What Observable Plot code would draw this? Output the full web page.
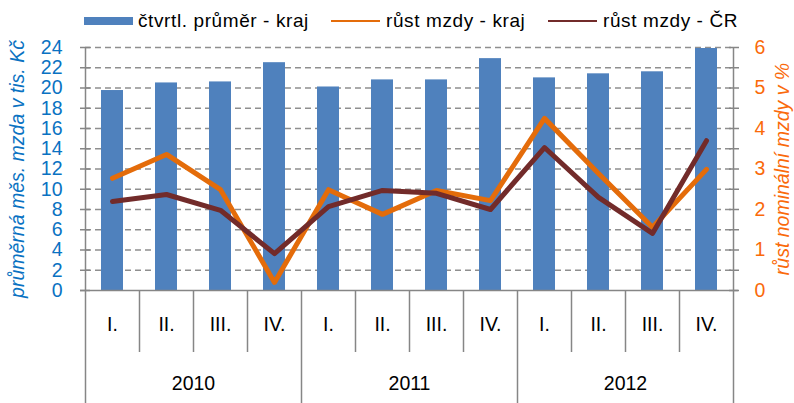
<!DOCTYPE html>
<html>
<head>
<meta charset="utf-8">
<script src="https://cdn.jsdelivr.net/npm/d3@7"></script>
<script src="https://cdn.jsdelivr.net/npm/@observablehq/plot@0.6"></script>
<style>
  html, body { margin: 0; padding: 0; background: #fff; }
  #wrap { position: relative; width: 794px; height: 403px; font-family: "Liberation Sans", Arial, sans-serif; }
  #wrap svg { position: absolute; left: 0; top: 0; }
  .lg { position: absolute; font-size: 19px; line-height: 22px; color: #000; white-space: pre; top: 10px; letter-spacing: 0.6px; }
  .sw { position: absolute; }
</style>
</head>
<body>
<div id="wrap"></div>
<script>
// ---- data ----
const years = ["2010", "2011", "2012"];
const quarters = ["I.", "II.", "III.", "IV."];
const wageKraj = [19.75, 20.5, 20.6, 22.5, 20.1, 20.8, 20.8, 22.9, 21.0, 21.4, 21.6, 23.9];      // tis. Kč
const growthKraj = [2.77, 3.36, 2.49, 0.2, 2.49, 1.88, 2.47, 2.22, 4.25, 2.89, 1.56, 2.99];    // %
const growthCR = [2.2, 2.37, 1.98, 0.91, 2.07, 2.47, 2.4, 2.0, 3.53, 2.3, 1.41, 3.7];         // %
const leftTicks = [0, 2, 4, 6, 8, 10, 12, 14, 16, 18, 20, 22, 24];
const rightTicks = [0, 1, 2, 3, 4, 5, 6];
const seriesNames = ["čtvrtl. průměr - kraj", "růst mzdy - kraj", "růst mzdy - ČR"];
const leftTitle = "průměrná měs. mzda v tis. Kč";
const rightTitle = "růst nominální mzdy v %";

// ---- build ----
const ratio = 24 / 6; // right axis (0–6 %) mapped onto left axis (0–24)
const rows = [];
years.forEach((y, yi) => quarters.forEach((q, qi) => {
  const i = yi * 4 + qi;
  rows.push({k: y + " " + q, year: y, q, wage: wageKraj[i], kraj: growthKraj[i], cr: growthCR[i], i});
}));
const keys = rows.map(d => d.k);

const BLUE = "#4F81BD", ORANGE = "#E46C0A", DARK = "#722B2A";
const AX = "#868686", LBLUE = "#0A72C2", LORANGE = "#FA6A0A";
const fs = 19.5;

const chart = Plot.plot({
  width: 794, height: 403,
  marginLeft: 85, marginRight: 61, marginTop: 47, marginBottom: 113,
  x: {domain: keys, padding: 0, axis: null},
  y: {domain: [0, 24], axis: null},
  style: {fontFamily: "'Liberation Sans', Arial, sans-serif", fontSize: fs + "px", background: "transparent", overflow: "visible"},
  marks: [
    Plot.gridY(leftTicks.filter(d => d > 0), {stroke: "#8f8f8f", strokeOpacity: 1, strokeWidth: 1.5, strokeDasharray: "6,4"}),
    Plot.barY(rows, {x: "k", y: "wage", fill: BLUE, insetLeft: 16, insetRight: 16}),
    Plot.lineY(rows, {x: "k", y: d => d.kraj * ratio, stroke: ORANGE, strokeWidth: 5}),
    Plot.lineY(rows, {x: "k", y: d => d.cr * ratio, stroke: DARK, strokeWidth: 5}),
    // left axis
    Plot.axisY(leftTicks, {anchor: "left", tickSize: 10, dx: 5, stroke: AX, strokeWidth: 1.5, fill: "none", label: null}),
    Plot.axisY(leftTicks, {anchor: "left", tickSize: 0, tickPadding: 23, fill: LBLUE, label: null, fontSize: fs}),
    // right axis
    Plot.axisY(leftTicks, {anchor: "right", tickSize: 10, dx: -5, stroke: AX, strokeWidth: 1.5, fill: "none", label: null}),
    Plot.axisY(rightTicks.map(d => d * ratio), {anchor: "right", tickSize: 0, tickPadding: 21, fill: LORANGE, label: null, tickFormat: d => d / ratio, fontSize: fs}),
    // bottom line
    Plot.ruleY([0], {stroke: AX, strokeWidth: 1.5, insetLeft: -5, insetRight: -5}),
    // outer vertical lines (axes + extension)
    Plot.ruleX([keys[0]], {dx: -27, stroke: AX, strokeWidth: 1.5, insetBottom: -113}),
    Plot.ruleX([keys[keys.length - 1]], {dx: 27, stroke: AX, strokeWidth: 1.5, insetBottom: -113}),
    // year separators
    Plot.ruleX(rows.filter(d => d.i % 4 === 0 && d.i > 0), {x: "k", dx: -27, stroke: AX, strokeWidth: 1.5, insetTop: 243, insetBottom: -113}),
    // quarter separators
    Plot.ruleX(rows.filter(d => d.i % 4 !== 0), {x: "k", dx: -27, stroke: AX, strokeWidth: 1.5, insetTop: 243, insetBottom: -62}),
    // quarter labels
    Plot.text(rows, {x: "k", text: "q", frameAnchor: "bottom", dy: 40, fill: "#000", fontSize: fs}),
    // year labels
    Plot.text(rows.filter(d => d.q === "II."), {x: "k", text: "year", dx: 27, frameAnchor: "bottom", dy: 99, fill: "#000", fontSize: fs}),
    // axis titles
    Plot.text([leftTitle], {frameAnchor: "left", textAnchor: "middle", dx: -68, rotate: -90, fill: LBLUE, fontStyle: "italic", fontSize: fs}),
    Plot.text([rightTitle], {frameAnchor: "right", textAnchor: "middle", dx: 49, rotate: -90, fill: LORANGE, fontStyle: "italic", fontSize: fs})
  ]
});

const wrap = document.getElementById("wrap");
wrap.appendChild(chart);

// ---- legend ----
const legend = [
  {name: seriesNames[0], type: "bar", color: BLUE, sx: 84, tx: 138},
  {name: seriesNames[1], type: "line", color: ORANGE, sx: 331, tx: 386},
  {name: seriesNames[2], type: "line", color: DARK, sx: 548, tx: 603}
];
legend.forEach(l => {
  const sw = document.createElement("div");
  sw.className = "sw";
  sw.style.left = l.sx + "px";
  sw.style.width = "49px";
  sw.style.background = l.color;
  if (l.type === "bar") { sw.style.top = "17px"; sw.style.height = "8px"; }
  else { sw.style.top = "20px"; sw.style.height = "2px"; }
  wrap.appendChild(sw);
  const t = document.createElement("div");
  t.className = "lg";
  t.style.left = l.tx + "px";
  t.textContent = l.name;
  wrap.appendChild(t);
});
</script>
</body>
</html>
